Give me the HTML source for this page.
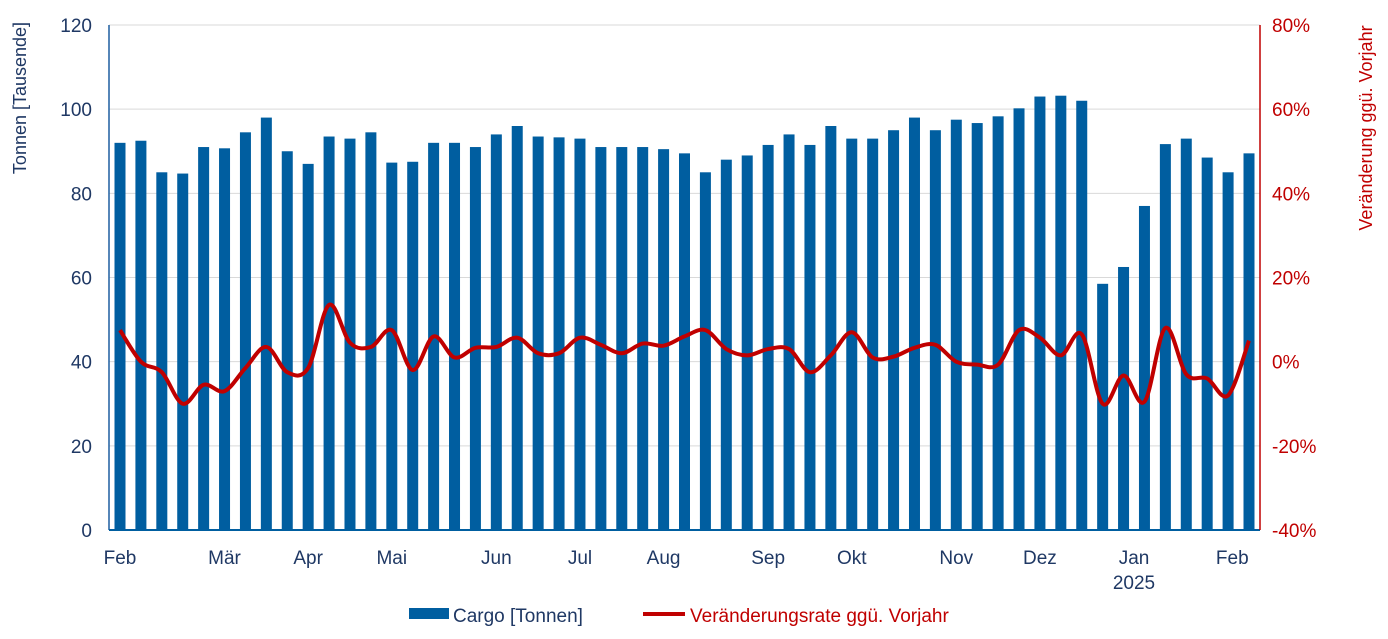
<!DOCTYPE html>
<html><head><meta charset="utf-8"><style>
body{margin:0;background:#fff;}
svg text{font-family:"Liberation Sans",sans-serif;}
</style></head><body>
<svg width="1388" height="634" xmlns="http://www.w3.org/2000/svg">
<g id="grid"></g>
<g id="bars"></g>
<g id="axes"></g>
<path id="line" fill="none" stroke="#C00000" stroke-width="4" stroke-linejoin="round"/>
<text x="26" y="98" transform="rotate(-90 26 98)" text-anchor="middle" font-size="18" fill="#1F3864">Tonnen [Tausende]</text>
<text x="1372" y="128" transform="rotate(-90 1372 128)" text-anchor="middle" font-size="18" fill="#C00000">Veränderung ggü. Vorjahr</text>
<g>
<rect x="409" y="608" width="40" height="11" fill="#005EA0"/>
<text x="453" y="622" font-size="19" fill="#1F3864">Cargo [Tonnen]</text>
<line x1="643" y1="614" x2="685" y2="614" stroke="#C00000" stroke-width="4"/>
<text x="690" y="622" font-size="19" fill="#C00000">Veränderungsrate ggü. Vorjahr</text>
</g>
</svg>
<script>
const cargo=[92,92.5,85,84.7,91,90.7,94.5,98,90,87,93.5,93,94.5,87.3,87.5,92,92,91,94,96,93.5,93.3,93,91,91,91,90.5,89.5,85,88,89,91.5,94,91.5,96,93,93,95,98,95,97.5,96.7,98.3,100.2,103,103.2,102,58.5,62.5,77,91.7,93,88.5,85,89.5];
const rate=[7.5,0,-2.5,-10,-5.5,-7,-1.5,3.5,-2.5,-1.5,13.5,4.5,3.5,7.5,-2,6,1,3.3,3.5,5.7,2,2,5.7,4,2,4.3,3.8,6,7.5,3,1.5,3,3,-2.5,1.5,7,1,1.2,3.3,4,0,-0.7,-0.7,7.5,5.7,1.5,6.5,-10,-3.3,-9.5,8,-3,-4,-8,5];
const leftTicks=[0,20,40,60,80,100,120];
const rightTicks=[-40,-20,0,20,40,60,80];
const months=["Feb","Mär","Apr","Mai","Jun","Jul","Aug","Sep","Okt","Nov","Dez","Jan","Feb"];
const monthIdx=[0,5,9,13,18,22,26,31,35,40,44,48.5,53.2];
const NS="http://www.w3.org/2000/svg";
const X0=109,X1=1260,Y0=530,Y1=25;
const yL=v=>Y0-(v/120)*(Y0-Y1);
const yR=v=>Y0-((v+40)/120)*(Y0-Y1);
const xi=i=>120+i*(1249-120)/(cargo.length-1);
function mk(t,a,p){const e=document.createElementNS(NS,t);for(const k in a)e.setAttribute(k,a[k]);p.appendChild(e);return e;}
const grid=document.getElementById('grid'),bars=document.getElementById('bars'),axes=document.getElementById('axes');
leftTicks.forEach((v,k)=>{
 if(v>0){const l=mk('line',{x1:X0,x2:X1,y1:yL(v),y2:yL(v),stroke:'#D9D9D9','stroke-width':1},grid);
 
 }
 const t=mk('text',{x:92,y:yL(v)+7,'text-anchor':'end','font-size':19,fill:'#1F3864'},axes);t.textContent=v;
 
 
});
rightTicks.forEach(v=>{
 const t=mk('text',{x:1272,y:yR(v)+7,'font-size':19,fill:'#C00000'},axes);t.textContent=v+'%';
 
 
});
cargo.forEach((v,i)=>{
 const r=mk('rect',{x:xi(i)-5.5,y:yL(v),width:11,height:Y0-yL(v),fill:'#005EA0'},bars);
 
 
});
mk('line',{x1:X0,x2:X0,y1:Y1,y2:Y0,stroke:'#1F5FA0','stroke-width':1.5},axes);
mk('line',{x1:X0,x2:X1,y1:Y0,y2:Y0,stroke:'#005EA0','stroke-width':2},axes);
mk('line',{x1:X1,x2:X1,y1:Y1,y2:Y0,stroke:'#C00000','stroke-width':1.5},axes);
months.forEach((m,k)=>{
 const t=mk('text',{x:xi(monthIdx[k]),y:564,'text-anchor':'middle','font-size':19,fill:'#1F3864'},axes);t.textContent=m;
 
 
});
const yr=mk('text',{x:xi(48.5),y:589,'text-anchor':'middle','font-size':19,fill:'#1F3864'},axes);yr.textContent='2025';


const P=rate.map((v,i)=>[xi(i),yR(v)]);
let d='M'+P[0][0]+','+P[0][1];
for(let i=0;i<P.length-1;i++){
 const p0=P[Math.max(0,i-1)],p1=P[i],p2=P[i+1],p3=P[Math.min(P.length-1,i+2)];
 const c1=[p1[0]+(p2[0]-p0[0])/6,p1[1]+(p2[1]-p0[1])/6],c2=[p2[0]-(p3[0]-p1[0])/6,p2[1]-(p3[1]-p1[1])/6];
 d+=` C${c1[0]},${c1[1]} ${c2[0]},${c2[1]} ${p2[0]},${p2[1]}`;
}
document.getElementById('line').setAttribute('d',d);
</script>
</body></html>
